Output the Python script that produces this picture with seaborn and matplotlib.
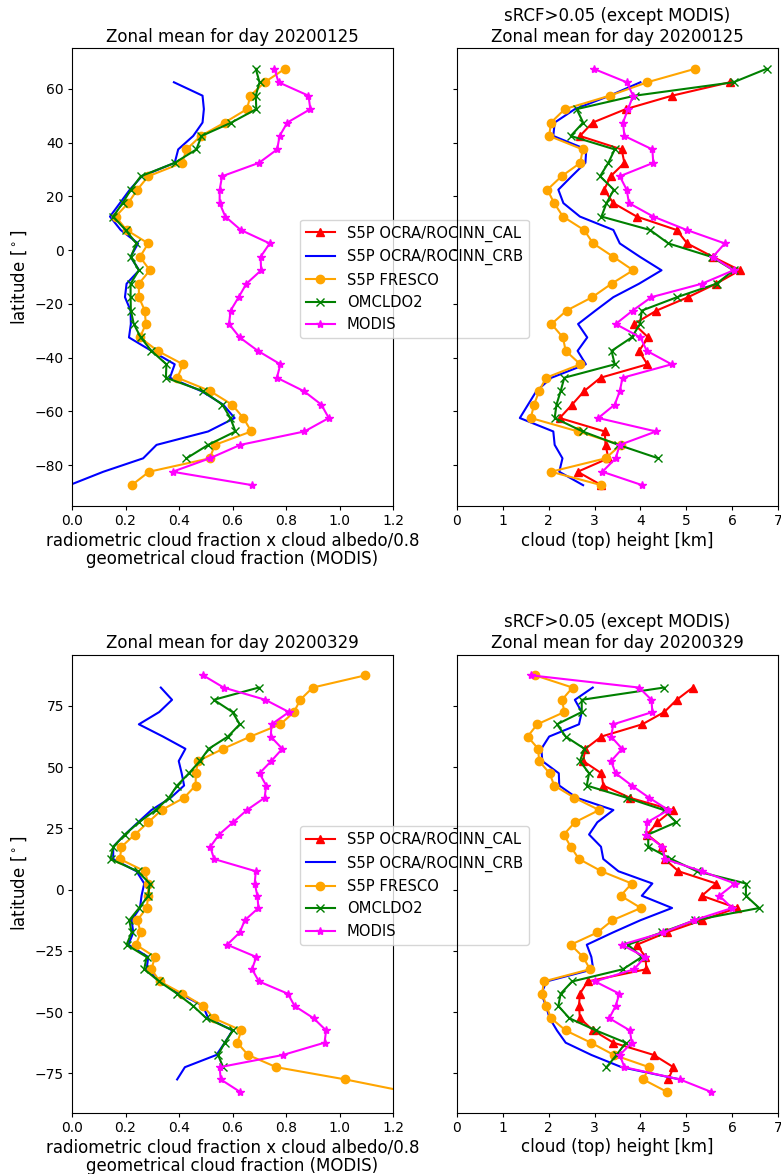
import numpy as np
import pandas as pd
import matplotlib
matplotlib.use("Agg")
import matplotlib.pyplot as plt
from matplotlib.lines import Line2D
import seaborn as sns

nan = np.nan

# ---------------- data ----------------
names = ["S5P OCRA/ROCINN_CAL", "S5P OCRA/ROCINN_CRB", "S5P FRESCO", "OMCLDO2", "MODIS"]
colors = ["red", "blue", "orange", "green", "magenta"]
markers = ["^", None, "o", "x", "*"]

days = ["20200125", "20200329"]

lat_jan = [67.5, 62.5, 57.5, 52.5, 47.5, 42.5, 37.5, 32.5, 27.5, 22.5, 17.5, 12.5, 7.5, 2.5,
           -2.5, -7.5, -12.5, -17.5, -22.5, -27.5, -32.5, -37.5, -42.5, -47.5, -52.5, -57.5,
           -62.5, -67.5, -72.5, -77.5, -82.5, -87.5]

lat_mar = [87.5, 82.5, 77.5, 72.5, 67.5, 62.5, 57.5, 52.5, 47.5, 42.5, 37.5, 32.5, 27.5, 22.5,
           17.5, 12.5, 7.5, 2.5, -2.5, -7.5, -12.5, -17.5, -22.5, -27.5, -32.5, -37.5, -42.5,
           -47.5, -52.5, -57.5, -62.5, -67.5, -72.5, -77.5, -82.5]

# cloud fraction, 2020-01-25 (CAL not available)
cf_jan_crb = [nan, 0.381, 0.488, 0.493, 0.488, 0.453, 0.397, 0.384, 0.261, 0.216, 0.179, 0.142,
              0.182, 0.247, 0.219, 0.251, 0.204, 0.198, 0.219, 0.220, 0.213, 0.297, 0.384, 0.366,
              0.484, 0.565, 0.608, 0.509, 0.316, 0.266, 0.117, -0.01]
cf_jan_fresco = [0.796, 0.720, 0.667, 0.654, 0.571, 0.481, 0.428, 0.412, 0.285, 0.244, 0.210,
                 0.163, 0.204, 0.285, 0.254, 0.291, 0.250, 0.250, 0.272, 0.276, 0.254, 0.320,
                 0.415, 0.394, 0.517, 0.598, 0.641, 0.670, 0.534, 0.515, 0.288, 0.223]
cf_jan_omcldo2 = [0.687, 0.701, 0.687, 0.689, 0.596, 0.484, 0.465, 0.384, 0.257, 0.220, 0.189,
                  0.154, 0.200, 0.241, 0.220, 0.250, 0.219, 0.219, 0.220, 0.231, 0.257, 0.297,
                  0.353, 0.351, 0.490, 0.562, 0.592, 0.611, 0.509, 0.428, nan, nan]
cf_jan_modis = [0.757, 0.772, 0.884, 0.891, 0.805, 0.776, 0.767, 0.699, 0.561, 0.552, 0.552,
                0.573, 0.631, 0.739, 0.705, 0.707, 0.652, 0.623, 0.593, 0.587, 0.627, 0.695,
                0.779, 0.766, 0.867, 0.932, 0.960, 0.869, 0.629, 0.515, 0.376, 0.674]

# cloud height, 2020-01-25
ch_jan_cal = [nan, 5.95, 4.69, 3.68, 2.96, 2.68, 3.59, 3.65, 3.35, 3.21, 3.41, 3.92, 4.79, 5.02,
              5.58, 6.17, 5.65, 5.04, 4.35, 3.86, 4.17, 3.97, 4.15, 3.13, 2.77, 2.51, 2.24, 3.22,
              3.24, 3.30, 2.63, 3.15]
ch_jan_crb = [nan, 4.00, 3.33, 2.57, 2.13, 2.10, 2.82, 2.80, 2.50, 2.21, 2.32, 2.68, 3.41, 3.55,
              3.99, 4.46, 3.97, 3.41, 3.02, 2.64, 2.84, 2.63, 2.81, 2.06, 1.73, 1.55, 1.37, 2.10,
              2.13, 2.30, 2.23, 2.75]
ch_jan_fresco = [5.19, 4.15, 3.33, 2.35, 2.05, 2.01, 2.74, 2.69, 2.28, 1.97, 2.12, 2.31, 2.77,
                 2.97, 3.41, 3.84, 3.37, 2.95, 2.39, 2.06, 2.31, 2.37, 2.69, 1.94, 1.79, 1.68,
                 1.61, 2.64, 3.57, 3.24, 2.05, 3.15]
ch_jan_omcldo2 = [6.75, 6.03, 3.88, 2.61, 2.75, 2.48, 3.44, 3.30, 3.12, 3.42, 3.26, 3.15, 4.21,
                  4.61, 5.55, 6.03, 5.66, 4.80, 4.03, 3.99, 3.81, 3.37, 3.44, 2.34, 2.26, 2.17,
                  2.13, 2.74, 3.52, 4.39, nan, nan]
ch_jan_modis = [2.98, 3.70, 3.84, 3.73, 3.62, 3.65, 4.26, 4.28, 3.55, 3.70, 3.75, 4.28, 5.01,
                5.84, 5.58, 6.03, 5.34, 4.24, 3.83, 3.46, 4.00, 4.14, 4.68, 3.61, 3.55, 3.44,
                3.08, 4.34, 3.55, 3.46, 3.17, 4.04]

# cloud fraction, 2020-03-29 (CAL not available)
cf_mar_crb = [nan, 0.332, 0.374, 0.326, 0.250, 0.340, 0.424, 0.399, 0.410, 0.419, 0.369, 0.297,
              0.247, 0.198, 0.154, 0.154, 0.241, 0.270, 0.260, 0.254, 0.223, 0.229, 0.211, 0.285,
              0.279, 0.328, 0.403, 0.490, 0.509, 0.600, 0.571, 0.540, 0.422, 0.393, nan]
cf_mar_fresco = [1.097, 0.900, 0.853, 0.830, 0.779, 0.667, 0.565, 0.471, 0.463, 0.462, 0.419,
                 0.335, 0.285, 0.235, 0.185, 0.179, 0.272, 0.285, 0.285, 0.279, 0.244, 0.257,
                 0.239, 0.310, 0.297, 0.328, 0.413, 0.490, 0.530, 0.633, 0.618, 0.658, 0.764,
                 1.022, 1.25]
cf_mar_omcldo2 = [nan, 0.698, 0.530, 0.600, 0.627, 0.583, 0.511, 0.478, 0.437, 0.393, 0.362,
                  0.313, 0.250, 0.198, 0.154, 0.144, 0.245, 0.291, 0.285, 0.251, 0.214, 0.223,
                  0.204, 0.279, 0.270, 0.326, 0.393, 0.453, 0.502, 0.602, 0.571, 0.546, 0.565,
                  nan, nan]
cf_mar_modis = [0.490, 0.567, 0.723, 0.811, 0.746, 0.743, 0.786, 0.745, 0.701, 0.726, 0.720,
                0.654, 0.602, 0.550, 0.517, 0.531, 0.687, 0.683, 0.693, 0.697, 0.646, 0.627,
                0.580, 0.689, 0.673, 0.699, 0.807, 0.832, 0.903, 0.950, 0.944, 0.789, 0.552,
                0.556, 0.627]

# cloud height, 2020-03-29
ch_mar_cal = [nan, 5.14, 4.79, 4.52, 4.04, 3.15, 2.80, 2.75, 3.15, 3.19, 3.77, 4.70, 4.37, 4.15,
              4.48, 4.53, 4.83, 5.65, 5.34, 6.10, 5.34, 4.57, 3.92, 4.11, 4.13, 2.85, 2.68, 2.66,
              2.68, 2.97, 3.41, 4.29, 4.72, 4.61, nan]
ch_mar_crb = [nan, 2.96, 2.57, 2.72, 2.66, 2.01, 1.84, 1.86, 2.22, 2.23, 2.61, 3.41, 3.06, 2.88,
              3.14, 3.19, 3.52, 4.26, 4.03, 4.69, 4.00, 3.40, 2.83, 2.93, 2.97, 1.95, 1.84, 1.94,
              2.02, 2.18, 2.37, 2.93, 3.59, 4.86, nan]
ch_mar_fresco = [1.70, 2.52, 2.29, 2.34, 1.75, 1.54, 1.77, 1.79, 2.02, 2.12, 2.56, 3.10, 2.57,
                 2.33, 2.48, 2.66, 3.15, 3.81, 3.57, 4.01, 3.39, 3.06, 2.48, 2.75, 2.90, 1.89,
                 1.86, 1.95, 2.05, 2.37, 2.92, 3.42, 4.19, 4.06, 4.57]
ch_mar_omcldo2 = [nan, 4.51, 2.72, 2.72, 2.18, 2.37, 2.78, 2.68, 2.88, 2.83, 3.70, 4.51, 4.78,
                  4.17, 4.17, 4.67, 5.23, 6.30, 6.30, 6.59, 5.19, 4.46, 3.73, 4.03, 3.62, 2.51,
                  2.26, 2.21, 2.45, 3.03, 3.68, 3.48, 3.26, nan, nan]
ch_mar_modis = [1.61, 3.97, 4.24, 4.26, 3.41, 3.36, 3.60, 3.36, 3.46, 3.81, 4.19, 4.61, 4.15,
                4.12, 4.48, 4.53, 5.34, 6.06, 5.72, 6.00, 5.17, 4.50, 3.59, 4.10, 3.86, 3.01,
                3.54, 3.46, 3.32, 3.77, 3.81, 3.55, 3.65, 4.86, 5.53]

# ---------------- figure ----------------
W, H = 781, 1174
fig = plt.figure(figsize=(W / 100, H / 100), dpi=100)


def rect(left, top, width, height):
    return [left / W, 1 - (top + height) / H, width / W, height / H]


def draw(ax, lat, series):
    for name, col, mk, vals in zip(names, colors, markers, series):
        if vals is None:
            continue
        df = pd.DataFrame({"value": vals, "lat": lat}).dropna()
        kw = dict(color=col, label=name)
        if mk is not None:
            kw.update(marker=mk, markeredgecolor=col, markeredgewidth=1.0,
                      markerfacecolor=col, markersize=6)
        sns.lineplot(data=df, x="value", y="lat", orient="y", sort=False,
                     estimator=None, ax=ax, legend=False, **kw)


rows = [
    (lat_jan, [None, cf_jan_crb, cf_jan_fresco, cf_jan_omcldo2, cf_jan_modis],
     [ch_jan_cal, ch_jan_crb, ch_jan_fresco, ch_jan_omcldo2, ch_jan_modis], 48),
    (lat_mar, [None, cf_mar_crb, cf_mar_fresco, cf_mar_omcldo2, cf_mar_modis],
     [ch_mar_cal, ch_mar_crb, ch_mar_fresco, ch_mar_omcldo2, ch_mar_modis], 654.5),
]

for (lat, cf, ch, top), day in zip(rows, days):
    axl = fig.add_axes(rect(72, top, 321, 458))
    axr = fig.add_axes(rect(457, top, 321, 458), sharey=axl)
    axr.set_facecolor("none")

    draw(axl, lat, cf)
    draw(axr, lat, ch)

    axl.set_xlim(0, 1.2)
    axr.set_xlim(0, 7)
    axr.tick_params(labelleft=False)
    for a in (axl, axr):
        a.tick_params(length=2.6, pad=3.2)

    axl.set_title(f"Zonal mean for day {day}", fontsize=12, pad=4.5)
    axr.set_title(f"sRCF>0.05 (except MODIS)\nZonal mean for day {day}", fontsize=12, pad=4.5)
    axl.set_xlabel("radiometric cloud fraction x cloud albedo/0.8\ngeometrical cloud fraction (MODIS)",
                   fontsize=12, labelpad=2.5, linespacing=1.05)
    axl.set_ylabel(r"latitude [$^\circ$]", fontsize=12)
    axr.set_xlabel("cloud (top) height [km]", fontsize=12, labelpad=2.5)
    axr.set_ylabel("")

    handles, labels = axl.get_legend_handles_labels()
    proxy = Line2D([], [], color=colors[0], marker=markers[0], markeredgecolor=colors[0])
    handles = [proxy] + handles
    labels = [names[0]] + labels
    axl.legend(handles, labels, loc="center left", bbox_to_anchor=(0.687, 0.496),
               fontsize=10.6)

fig.savefig("out.png", dpi=100)
